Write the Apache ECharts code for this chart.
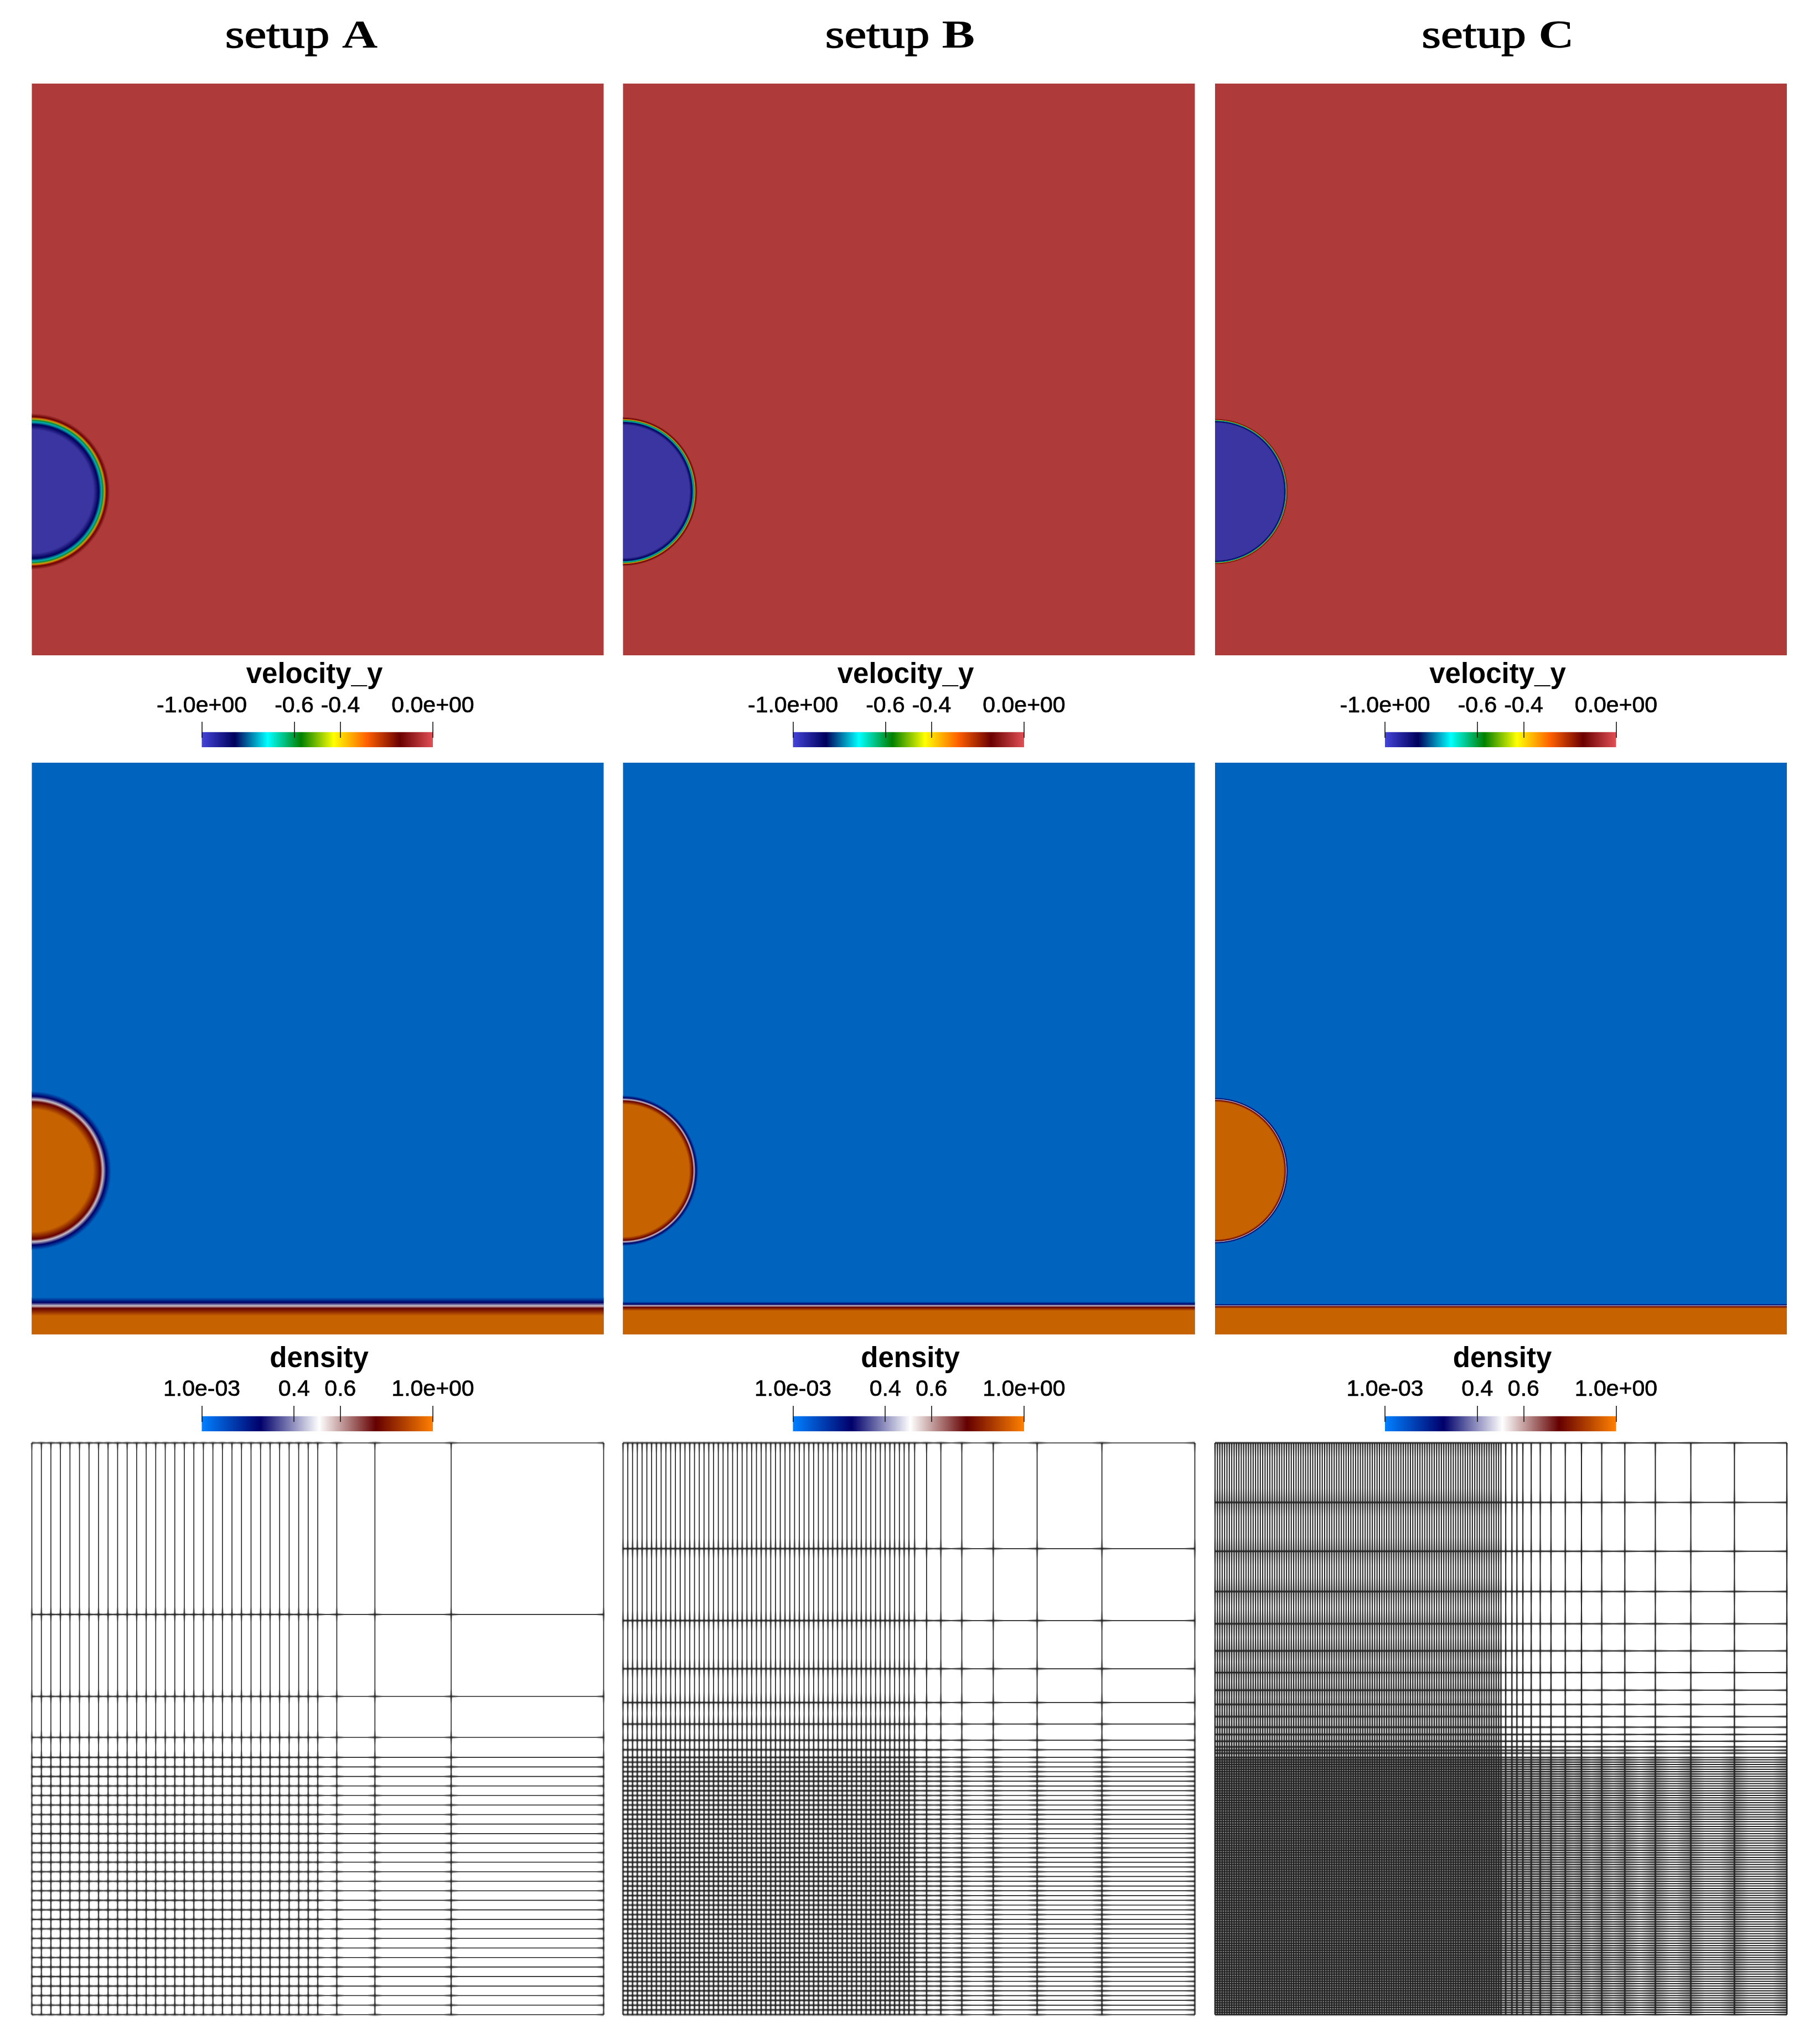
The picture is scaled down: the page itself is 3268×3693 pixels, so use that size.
<!DOCTYPE html>
<html>
<head>
<meta charset="utf-8">
<title>setup A B C</title>
<script src="https://cdn.jsdelivr.net/npm/echarts@6/dist/echarts.min.js"></script>
<style>
  html, body { margin: 0; padding: 0; background: #fff; }
  #main { width: 3268px; height: 3693px; }
</style>
</head>
<body>
<div id="main"></div>
<script>
const setups = ['setup A', 'setup B', 'setup C'];

// field geometry, in domain units (0..1)
const circleCenter = [0, 0.2865];
const circleRadius = 0.1243;
const layerHeight = 0.05;
// interface gets thinner with each setup
const rimScale = [1, 0.5, 0.25];

const velocityRimOffsets = [-0.0165, -0.0072, -0.0026, 0, 0.0026, 0.0038, 0.0064, 0.0122];
const velocityRimColors = ['#3a35a0', '#00005c', '#00b0b0', '#0e8a40', '#c0a800', '#d06010', '#680000', '#ae3a3a'];
const densityRimOffsets = [-0.0174, -0.0044, 0, 0.0058, 0.0145];
const densityRimColors = ['#c66200', '#640000', '#c8c0c8', '#000068', '#0063be'];

// colour bars
const velocityBarRange = [-1, 0];
const velocityBarTicks = [-1, -0.6, -0.4, 0];
const velocityBarLabels = ['-1.0e+00', '-0.6', '-0.4', '0.0e+00'];
const velocityBarStops = [0, 0.143, 0.285, 0.43, 0.571, 0.714, 0.857, 1];
const velocityBarColors = ['#4444d8', '#00005c', '#00ffff', '#008000', '#ffff00', '#ff6100', '#6b0000', '#e05055'];

const densityBarRange = [0.001, 1];
const densityBarTicks = [0.001, 0.4, 0.6, 1];
const densityBarLabels = ['1.0e-03', '0.4', '0.6', '1.0e+00'];
const densityBarStops = [0, 0.254, 0.508, 0.753, 1];
const densityBarColors = ['#0080ff', '#00006a', '#ffffff', '#640000', '#ff8000'];

// mesh lines, in units of the finest cell
const meshSizes = [60, 120, 240];
const meshLineWidths = [1.6, 1.7, 2];
// blur around the crossings, half length in cells and strength
const meshHaloLengths = [0.8, 2.2, 6];
const meshHaloPeaks = [0.42, 0.42, 0.32];
const meshXA = [0,1,2,3,4,5,6,7,8,9,10,11,12,13,14,15,16,17,18,19,20,21,22,23,24,25,26,27,28,29,30,32,36,44,60];
const meshYA = [0,1,2,3,4,5,6,7,8,9,10,11,12,13,14,15,16,17,18,19,20,21,22,23,24,25,26,27,29.1,33.4,42,60];
const meshXB = [0,1,2,3,4,5,6,7,8,9,10,11,12,13,14,15,16,17,18,19,20,21,22,23,24,25,26,27,28,29,30,31,32,33,34,35,36,37,38,39,40,41,42,43,44,45,46,47,48,49,50,51,52,53,54,55,56,57,58,59,60,61.2,63.7,66.7,71.1,77.7,86.9,100.5,120];
const meshYB = [0,1,2,3,4,5,6,7,8,9,10,11,12,13,14,15,16,17,18,19,20,21,22,23,24,25,26,27,28,29,30,31,32,33,34,35,36,37,38,39,40,41,42,43,44,45,46,47,48,49,50,51,52,53,54,55.6,57.6,61,65.5,72.6,82.7,97.8,120];
const meshXC = [0,1,2,3,4,5,6,7,8,9,10,11,12,13,14,15,16,17,18,19,20,21,22,23,24,25,26,27,28,29,30,31,32,33,34,35,36,37,38,39,40,41,42,43,44,45,46,47,48,49,50,51,52,53,54,55,56,57,58,59,60,61,62,63,64,65,66,67,68,69,70,71,72,73,74,75,76,77,78,79,80,81,82,83,84,85,86,87,88,89,90,91,92,93,94,95,96,97,98,99,100,101,102,103,104,105,106,107,108,109,110,111,112,113,114,115,116,117,118,119,120,122,124.6,126.7,129.2,132.7,136.5,141,147,153.8,162.3,172,184.8,199.7,218,240];
const meshYC = [0,1,2,3,4,5,6,7,8,9,10,11,12,13,14,15,16,17,18,19,20,21,22,23,24,25,26,27,28,29,30,31,32,33,34,35,36,37,38,39,40,41,42,43,44,45,46,47,48,49,50,51,52,53,54,55,56,57,58,59,60,61,62,63,64,65,66,67,68,69,70,71,72,73,74,75,76,77,78,79,80,81,82,83,84,85,86,87,88,89,90,91,92,93,94,95,96,97,98,99,100,101,102,103,104,105,106,107,108,109.8,111,112.4,114.8,117.6,120.7,125.1,130.2,136.2,143.6,152.7,164.1,177.6,194.5,215,240];
const meshX = [meshXA, meshXB, meshXC];
const meshY = [meshYA, meshYB, meshYC];

const panelLeft = [57.5, 1125.5, 2195];
const panelSize = 1033;
const setupTitleX = [544.5, 1626, 2706];

const grid = [], xAxis = [], yAxis = [], series = [], title = [], graphic = [];

function addGrid(left, top, width, height, xOpt, yOpt) {
  grid.push({ left, top, width, height, containLabel: false });
  const idx = grid.length - 1;
  xAxis.push(Object.assign({ gridIndex: idx, type: 'value', show: false }, xOpt));
  yAxis.push(Object.assign({ gridIndex: idx, type: 'value', show: false }, yOpt));
  return idx;
}

function makeStops(positions, colors) {
  return positions.map((p, i) => ({ offset: p, color: colors[i] }));
}

// one field panel: background, bottom layer (density only) and half circle
function addField(left, top, offsets, colors, scale, hasLayer) {
  const idx = addGrid(left, top, panelSize, panelSize, { min: 0, max: 1 }, { min: 0, max: 1 });
  const first = offsets[0] * scale;
  const last = offsets[offsets.length - 1] * scale;
  series.push({
    type: 'custom',
    coordinateSystem: 'cartesian2d',
    xAxisIndex: idx,
    yAxisIndex: idx,
    silent: true,
    animation: false,
    data: [[circleCenter[0], circleCenter[1], circleRadius, layerHeight]],
    renderItem: function (params, api) {
      const tl = api.coord([0, 1]);
      const br = api.coord([1, 0]);
      const c = api.coord([api.value(0), api.value(1)]);
      const rad = api.value(2);
      const outer = api.coord([api.value(0) + rad + last, api.value(1)])[0] - c[0];
      const children = [{
        type: 'rect',
        shape: { x: tl[0], y: tl[1], width: br[0] - tl[0], height: br[1] - tl[1] },
        style: { fill: colors[colors.length - 1] }
      }];
      if (hasLayer) {
        const y = api.value(3);
        const yTop = api.coord([0, y + last])[1];
        const yBottom = api.coord([0, y + first])[1];
        children.push({
          type: 'rect',
          shape: { x: tl[0], y: yTop, width: br[0] - tl[0], height: br[1] - yTop },
          style: {
            fill: {
              type: 'linear', x: 0, y: yBottom, x2: 0, y2: yTop, global: true,
              colorStops: offsets.map((o, i) => ({
                offset: (o - offsets[0]) / (offsets[offsets.length - 1] - offsets[0]),
                color: colors[i]
              }))
            }
          }
        });
      }
      children.push({
        type: 'sector',
        shape: { cx: c[0], cy: c[1], r: outer, r0: 0, startAngle: -Math.PI / 2, endAngle: Math.PI / 2 },
        style: {
          fill: {
            type: 'radial', x: c[0], y: c[1], r: outer, global: true,
            colorStops: offsets.map((o, i) => ({
              offset: (rad + o * scale) / (rad + last),
              color: colors[i]
            }))
          }
        }
      });
      return { type: 'group', children };
    }
  });
}

function addColorBar(left, top, name, nameX, nameTop, labelMargin, range, ticks, labels, stops, colors) {
  const idx = addGrid(left, top, 417.5, 46, {
    show: true,
    min: range[0],
    max: range[1],
    position: 'top',
    z: 10,
    splitLine: { show: false },
    axisLine: { show: false, onZero: false },
    axisTick: { show: true, inside: true, length: 29, customValues: ticks, lineStyle: { color: '#111', width: 1.6 } },
    axisLabel: {
      show: true,
      customValues: ticks,
      margin: labelMargin,
      showMinLabel: true,
      showMaxLabel: true,
      fontFamily: 'Liberation Sans',
      fontSize: 41,
      color: '#000',
      textBorderColor: '#000',
      textBorderWidth: 0.7,
      formatter: v => labels[ticks.indexOf(v)]
    }
  }, { min: 0, max: 1 });
  series.push({
    type: 'custom',
    coordinateSystem: 'cartesian2d',
    xAxisIndex: idx,
    yAxisIndex: idx,
    silent: true,
    animation: false,
    data: [[range[0], range[1], 0.593]],
    renderItem: function (params, api) {
      const a = api.coord([api.value(0), api.value(2)]);
      const b = api.coord([api.value(1), 0]);
      return {
        type: 'rect',
        shape: { x: a[0], y: a[1], width: b[0] - a[0], height: b[1] - a[1] },
        style: { fill: { type: 'linear', x: 0, y: 0, x2: 1, y2: 0, colorStops: makeStops(stops, colors) } }
      };
    }
  });
  title.push({
    text: name,
    left: nameX,
    top: nameTop,
    padding: 0,
    textAlign: 'center',
    textStyle: { fontFamily: 'Liberation Sans', fontWeight: 'bold', fontSize: 51, color: '#000' }
  });
}

// transparency along a mesh line: darkest where it is crossed by another line
function haloStops(crossing, size, halfLen, peak) {
  const col = a => 'rgba(20,20,20,' + a.toFixed(3) + ')';
  const stops = [];
  crossing.forEach(function (v, i) {
    stops.push({ offset: v / size, color: col(peak) });
    if (i === crossing.length - 1) return;
    const next = crossing[i + 1];
    const gap = next - v;
    if (gap >= 2 * halfLen) {
      stops.push({ offset: (v + halfLen) / size, color: col(0) });
      stops.push({ offset: (next - halfLen) / size, color: col(0) });
    } else {
      stops.push({ offset: (v + next) / 2 / size, color: col(peak * (1 - gap / 2 / halfLen)) });
    }
  });
  return stops;
}

function meshHaloSeries(idx, values, crossing, vertical, size, halfLen, peak) {
  const stops = haloStops(crossing, size, halfLen, peak);
  const thickness = vertical ? 4 : 5;
  return {
    type: 'custom',
    coordinateSystem: 'cartesian2d',
    xAxisIndex: idx,
    yAxisIndex: idx,
    silent: true,
    animation: false,
    z: 1,
    data: values.map(v => [v]),
    renderItem: function (params, api) {
      const v = api.value(0);
      if (vertical) {
        const top = api.coord([v, size]);
        const bottom = api.coord([v, 0]);
        return {
          type: 'rect',
          shape: { x: top[0] - thickness / 2, y: top[1], width: thickness, height: bottom[1] - top[1] },
          style: { fill: { type: 'linear', x: 0, y: 1, x2: 0, y2: 0, colorStops: stops } }
        };
      }
      const left = api.coord([0, v]);
      const right = api.coord([size, v]);
      return {
        type: 'rect',
        shape: { x: left[0], y: left[1] - thickness / 2, width: right[0] - left[0], height: thickness },
        style: { fill: { type: 'linear', x: 0, y: 0, x2: 1, y2: 0, colorStops: stops } }
      };
    }
  };
}

function meshLineSeries(idx, values, vertical, size, lineWidth) {
  return {
    type: 'custom',
    coordinateSystem: 'cartesian2d',
    xAxisIndex: idx,
    yAxisIndex: idx,
    silent: true,
    animation: false,
    z: 2,
    data: values.map(v => [v]),
    renderItem: function (params, api) {
      const v = api.value(0);
      const p1 = vertical ? api.coord([v, 0]) : api.coord([0, v]);
      const p2 = vertical ? api.coord([v, size]) : api.coord([size, v]);
      return {
        type: 'line',
        shape: { x1: p1[0], y1: p1[1], x2: p2[0], y2: p2[1] },
        style: { stroke: '#222', lineWidth }
      };
    }
  };
}

setups.forEach(function (name, i) {
  const left = panelLeft[i];
  const size = meshSizes[i];
  addField(left, 151, velocityRimOffsets, velocityRimColors, rimScale[i], false);
  addColorBar(left + 307, 1304, 'velocity_y', left + 510.5, 1194, 8, velocityBarRange, velocityBarTicks, velocityBarLabels, velocityBarStops, velocityBarColors);
  addField(left, 1378, densityRimOffsets, densityRimColors, rimScale[i], true);
  addColorBar(left + 307, 2540, 'density', left + 519, 2430, 9, densityBarRange, densityBarTicks, densityBarLabels, densityBarStops, densityBarColors);

  const idx = addGrid(left, 2607, panelSize, panelSize, { min: 0, max: size }, { min: 0, max: size });
  series.push(meshHaloSeries(idx, meshX[i], meshY[i], true, size, meshHaloLengths[i], meshHaloPeaks[i]));
  series.push(meshHaloSeries(idx, meshY[i], meshX[i], false, size, meshHaloLengths[i], meshHaloPeaks[i]));
  series.push(meshLineSeries(idx, meshX[i], true, size, meshLineWidths[i]));
  series.push(meshLineSeries(idx, meshY[i], false, size, meshLineWidths[i]));

  const parts = name.split(' ');
  graphic.push({
    type: 'text',
    x: setupTitleX[i],
    y: 103,
    scaleX: 1.24,
    style: {
      text: '{a|' + parts[0] + '} {b|' + parts[1] + '}',
      fontFamily: 'Liberation Serif',
      fontSize: 72,
      fill: '#000',
      align: 'center',
      verticalAlign: 'bottom',
      rich: {
        a: { fontFamily: 'Liberation Serif', fontSize: 72, fill: '#000', stroke: '#000', lineWidth: 1.4 },
        b: { fontFamily: 'Liberation Serif', fontSize: 72, fontWeight: 'bold', fill: '#000' }
      }
    }
  });
});

const chart = echarts.init(document.getElementById('main'), null, { renderer: 'canvas' });
chart.setOption({
  backgroundColor: '#fff',
  animation: false,
  title,
  grid,
  xAxis,
  yAxis,
  graphic,
  series
});
</script>
</body>
</html>
